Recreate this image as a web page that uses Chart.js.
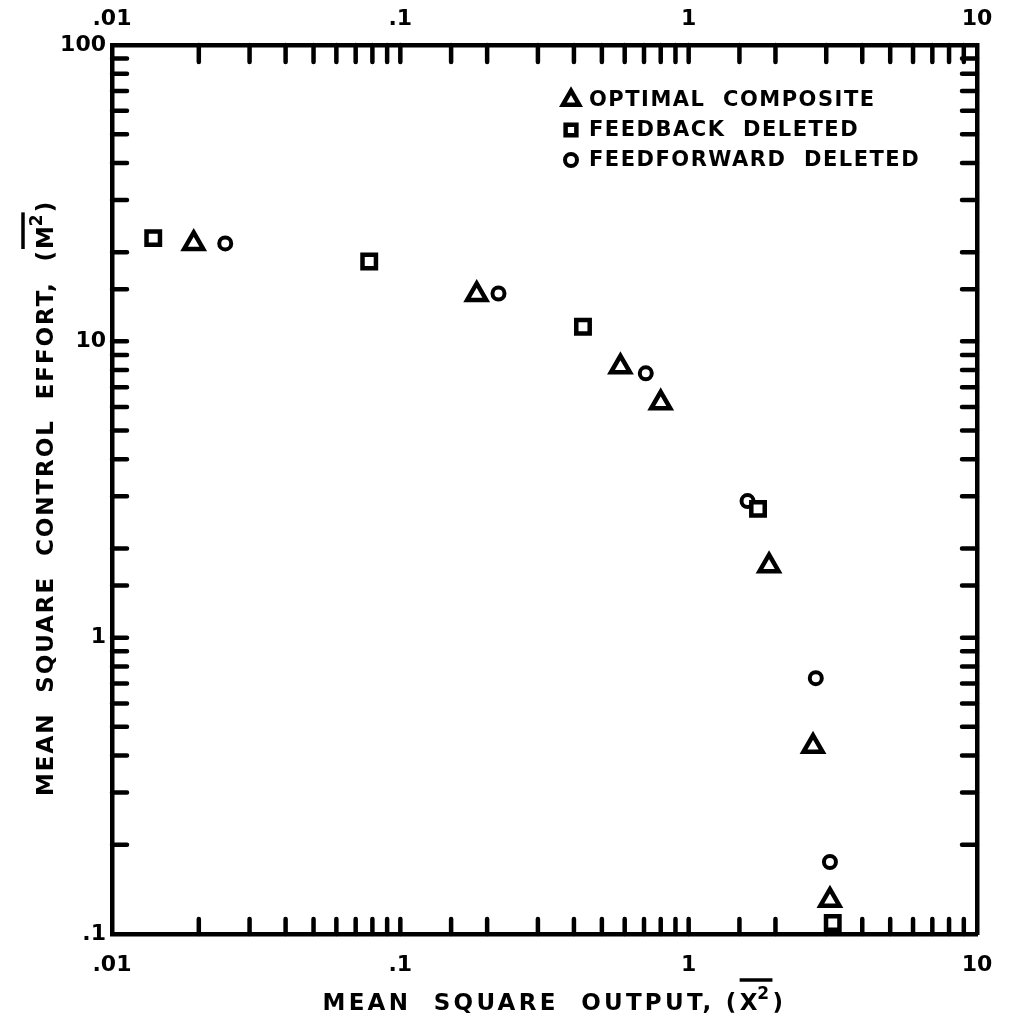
<!DOCTYPE html>
<html>
<head>
<meta charset="utf-8">
<script src="https://cdn.jsdelivr.net/npm/chart.js@4.4.1/dist/chart.umd.min.js"></script>
<style>
  html, body { margin: 0; padding: 0; background: #fff; }
  #wrap { width: 1012px; height: 1022px; }
</style>
</head>
<body>
<div id="wrap"><canvas id="chart"></canvas></div>
<script>
// series (log-log)
const seriesNames = ["OPTIMAL  COMPOSITE", "FEEDBACK  DELETED", "FEEDFORWARD  DELETED"];

const optimalX = [0.0192, 0.184, 0.58, 0.80, 1.90, 2.70, 3.09];
const optimalY = [21.4, 14.4, 8.2, 6.2, 1.75, 0.43, 0.13];

const feedbackX = [0.0139, 0.078, 0.43, 1.74, 3.16];
const feedbackY = [22.3, 18.6, 11.2, 2.72, 0.109];

const feedforwardX = [0.0247, 0.219, 0.71, 1.60, 2.76, 3.09];
const feedforwardY = [21.4, 14.5, 7.8, 2.89, 0.73, 0.175];

const xTickLabels = [".01", ".1", "1", "10"];
const yTickLabels = [".1", "1", "10", "100"];

const xTitle = ["MEAN  SQUARE  OUTPUT, (", "X", "2", ")"];
const yTitle = ["MEAN  SQUARE  CONTROL  EFFORT,  (", "M", "2", ")"];

const FONT = '"DejaVu Sans", "Liberation Sans", sans-serif';

function toPoints(xs, ys) {
  return xs.map((x, i) => ({ x: x, y: ys[i] }));
}

function isDecade(v) {
  const l = Math.log10(v);
  return Math.abs(l - Math.round(l)) < 1e-6;
}

function decadeLabel(labels, min) {
  return function (value) {
    if (!isDecade(value)) return "";
    const i = Math.round(Math.log10(value) - Math.log10(min));
    return labels[i] || "";
  };
}

// tick marks point into the plot in the original
const inwardTicks = {
  id: "inwardTicks",
  beforeDatasetsDraw(chart) {
    const ctx = chart.ctx;
    const a = chart.chartArea;
    ctx.save();
    ctx.strokeStyle = "#000";
    ctx.lineWidth = 4.5;
    ctx.lineCap = "round";
    chart.scales.x.ticks.forEach(t => {
      const px = chart.scales.x.getPixelForValue(t.value);
      if (px < a.left + 3 || px > a.right - 3) return;
      ctx.beginPath();
      ctx.moveTo(px, a.bottom); ctx.lineTo(px, a.bottom - 15);
      ctx.moveTo(px, a.top); ctx.lineTo(px, a.top + 17);
      ctx.stroke();
    });
    chart.scales.y.ticks.forEach(t => {
      const py = chart.scales.y.getPixelForValue(t.value);
      if (py < a.top + 3 || py > a.bottom - 3) return;
      ctx.beginPath();
      ctx.moveTo(a.left, py); ctx.lineTo(a.left + 15, py);
      ctx.moveTo(a.right, py); ctx.lineTo(a.right - 15, py);
      ctx.stroke();
    });
    ctx.restore();
  }
};

// axis title with superscript 2 and an overline over the symbol,
// spaced out to the width of the hand lettering
function drawTitle(ctx, parts, cx, cy, target) {
  const big = "bold 23px " + FONT;
  const small = "bold 17px " + FONT;
  ctx.letterSpacing = "0px";
  ctx.font = big;
  const raw = ctx.measureText(parts[0] + parts[1] + parts[3]).width;
  ctx.font = small;
  const rawSup = ctx.measureText(parts[2]).width;
  const n = (parts[0] + parts[1] + parts[2] + parts[3]).length;
  const sp = Math.max(0, (target - raw - rawSup) / n);
  ctx.letterSpacing = sp + "px";

  ctx.font = big;
  const w0 = ctx.measureText(parts[0]).width;
  const w1 = ctx.measureText(parts[1]).width;
  const w3 = ctx.measureText(parts[3]).width;
  ctx.font = small;
  const w2 = ctx.measureText(parts[2]).width;
  const x = cx - (w0 + w1 + w2 + w3) / 2;
  ctx.textBaseline = "alphabetic";
  ctx.textAlign = "left";
  ctx.font = big;
  ctx.fillText(parts[0], x, cy + 8);
  const ox = x + w0;
  ctx.fillText(parts[1], ox, cy + 8);
  ctx.font = small;
  ctx.fillText(parts[2], ox + w1 - sp, cy - 3);
  ctx.font = big;
  ctx.fillText(parts[3], ox + w1 + w2 - sp, cy + 8);
  ctx.lineWidth = 3.5;
  ctx.beginPath();
  ctx.moveTo(ox, cy - 22);
  ctx.lineTo(ox + w1 + w2 - sp, cy - 22);
  ctx.stroke();
  ctx.letterSpacing = "0px";
}

const titlesAndLegend = {
  id: "titlesAndLegend",
  afterDraw(chart) {
    const ctx = chart.ctx;
    ctx.save();
    ctx.fillStyle = "#000";
    ctx.strokeStyle = "#000";
    drawTitle(ctx, xTitle, 556, 1002, 467);

    ctx.save();
    ctx.translate(45, 497);
    ctx.rotate(-Math.PI / 2);
    drawTitle(ctx, yTitle, 0, 0, 598);
    ctx.restore();

    // legend inside the upper right corner
    ctx.font = "bold 21px " + FONT;
    ctx.letterSpacing = "1.5px";
    ctx.textBaseline = "middle";
    ctx.textAlign = "left";
    const rows = [100, 130, 160];
    const scale = [0.85, 0.8, 1];
    chart.data.datasets.forEach((ds, i) => {
      ctx.lineWidth = ds.borderWidth;
      ctx.fillStyle = "#fff";
      ctx.strokeStyle = "#000";
      Chart.helpers.drawPoint(ctx, {
        pointStyle: ds.pointStyle,
        radius: ds.pointRadius * scale[i],
        rotation: 0,
        borderWidth: ds.borderWidth
      }, 571, rows[i]);
      ctx.fillStyle = "#000";
      ctx.fillText(ds.label, 589, rows[i] + 1);
    });
    ctx.restore();
  }
};

const baseTicks = {
  color: "#000",
  font: { family: FONT, size: 22, weight: "bold" },
  autoSkip: false,
  maxRotation: 0,
  minRotation: 0
};

const ctx = document.getElementById("chart").getContext("2d");
const chart = new Chart(ctx, {
  type: "scatter",
  data: {
    datasets: [
      {
        label: seriesNames[0],
        data: toPoints(optimalX, optimalY),
        pointStyle: "triangle",
        pointRadius: 11,
        borderWidth: 4.5,
        borderColor: "#000",
        backgroundColor: "#fff"
      },
      {
        label: seriesNames[1],
        data: toPoints(feedbackX, feedbackY),
        pointStyle: "rect",
        pointRadius: 9.5,
        borderWidth: 4.5,
        borderColor: "#000",
        backgroundColor: "#fff"
      },
      {
        label: seriesNames[2],
        data: toPoints(feedforwardX, feedforwardY),
        pointStyle: "circle",
        pointRadius: 6,
        borderWidth: 4,
        borderColor: "#000",
        backgroundColor: "#fff"
      }
    ]
  },
  options: {
    responsive: true,
    maintainAspectRatio: false,
    animation: false,
    layout: { padding: 0 },
    plugins: {
      legend: { display: false },
      tooltip: { enabled: false }
    },
    scales: {
      x: {
        type: "logarithmic",
        position: "bottom",
        min: 0.01,
        max: 10,
        grid: { display: false, drawTicks: false },
        border: { display: true, color: "#000", width: 4.5 },
        ticks: Object.assign({}, baseTicks, { padding: 18, callback: decadeLabel(xTickLabels, 0.01) }),
        afterFit(s) { s.height = 88; }
      },
      x2: {
        type: "logarithmic",
        position: "top",
        min: 0.01,
        max: 10,
        grid: { display: false, drawTicks: false },
        border: { display: true, color: "#000", width: 4.5 },
        ticks: Object.assign({}, baseTicks, { padding: 13, callback: decadeLabel(xTickLabels, 0.01) }),
        afterFit(s) { s.height = 45; }
      },
      y: {
        type: "logarithmic",
        position: "left",
        min: 0.1,
        max: 100,
        grid: { display: false, drawTicks: false },
        border: { display: true, color: "#000", width: 4.5 },
        ticks: Object.assign({}, baseTicks, { padding: 6, callback: decadeLabel(yTickLabels, 0.1) }),
        afterFit(s) { s.width = 112; }
      },
      y2: {
        type: "logarithmic",
        position: "right",
        min: 0.1,
        max: 100,
        grid: { display: false, drawTicks: false },
        border: { display: true, color: "#000", width: 4.5 },
        ticks: { display: false },
        afterFit(s) { s.width = 35; }
      }
    }
  },
  plugins: [inwardTicks, titlesAndLegend]
});
</script>
</body>
</html>
